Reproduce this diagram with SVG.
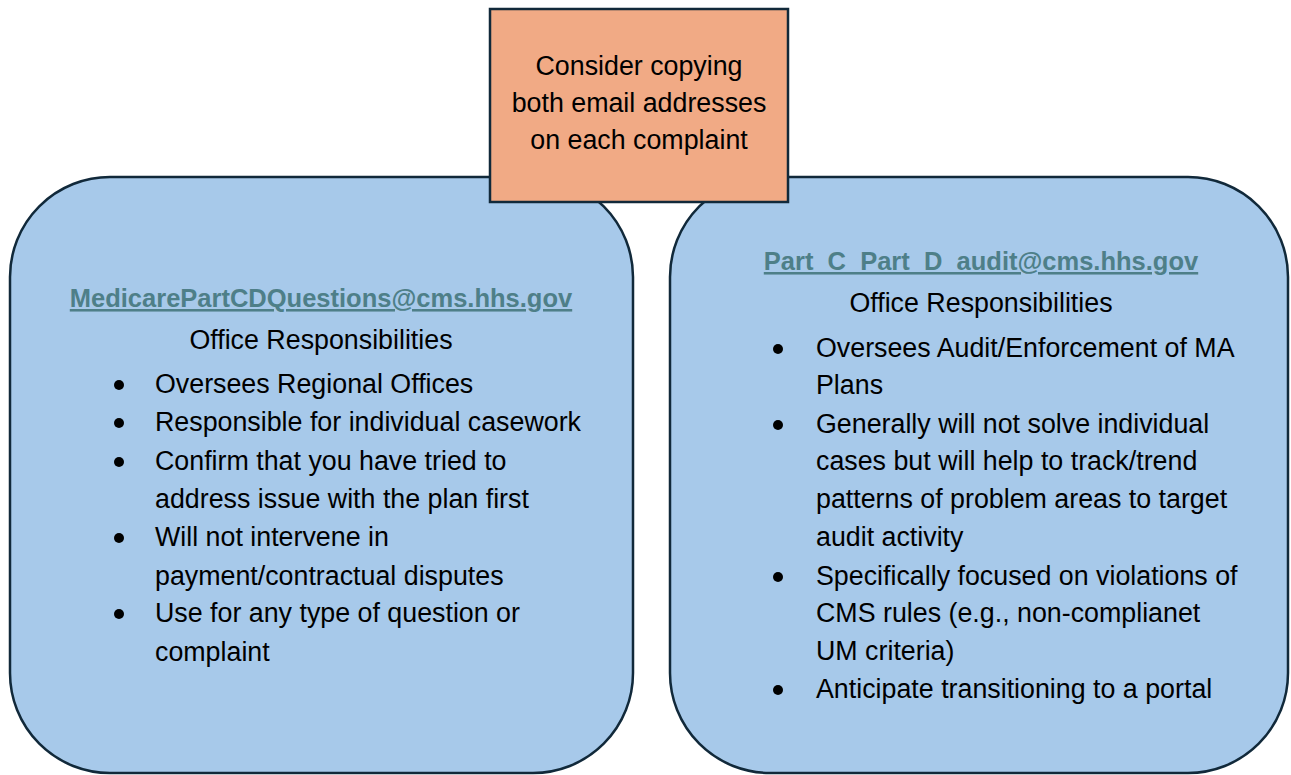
<svg xmlns="http://www.w3.org/2000/svg" width="1291" height="775" viewBox="0 0 1291 775">
  <style>
    .panel { fill: #a7c9ea; stroke: #11293a; stroke-width: 2.5; }
    .note { fill: #f1aa85; stroke: #11293a; stroke-width: 2.5; }
    .txt { font-family: "Liberation Sans", Arial, sans-serif; font-size: 26.8px; fill: #000; }
    .mid { text-anchor: middle; }
    .mail { font-family: "Liberation Sans", Arial, sans-serif; font-size: 25.5px; font-weight: bold; fill: #4e7f88; text-anchor: middle; text-decoration: underline; }
    .dot { fill: #000; }
  </style>
  <rect width="1291" height="775" fill="#ffffff"/>

  <!-- left panel: general questions mailbox -->
  <g id="node-questions">
    <rect class="panel" x="10" y="177" width="623" height="596" rx="100" ry="100"/>
    <text class="mail" x="321" y="307">MedicarePartCDQuestions@cms.hhs.gov</text>
    <text class="txt mid" x="321" y="349">Office Responsibilities</text>
    <circle class="dot" cx="119" cy="385" r="5"/>
    <text class="txt" x="155" y="393">Oversees Regional Offices</text>
    <circle class="dot" cx="119" cy="423" r="5"/>
    <text class="txt" x="155" y="431">Responsible for individual casework</text>
    <circle class="dot" cx="119" cy="462" r="5"/>
    <text class="txt" x="155" y="470">Confirm that you have tried to</text>
    <text class="txt" x="155" y="508">address issue with the plan first</text>
    <circle class="dot" cx="119" cy="538" r="5"/>
    <text class="txt" x="155" y="546">Will not intervene in</text>
    <text class="txt" x="155" y="585">payment/contractual disputes</text>
    <circle class="dot" cx="119" cy="614" r="5"/>
    <text class="txt" x="155" y="622">Use for any type of question or</text>
    <text class="txt" x="155" y="661">complaint</text>
  </g>

  <!-- right panel: audit mailbox -->
  <g id="node-audit">
    <rect class="panel" x="670" y="177" width="618" height="596" rx="100" ry="100"/>
    <text class="mail" x="981" y="270">Part_C_Part_D_audit@cms.hhs.gov</text>
    <text class="txt mid" x="981" y="312">Office Responsibilities</text>
    <circle class="dot" cx="778" cy="349" r="5"/>
    <text class="txt" x="816" y="357">Oversees Audit/Enforcement of MA</text>
    <text class="txt" x="816" y="394">Plans</text>
    <circle class="dot" cx="778" cy="425" r="5"/>
    <text class="txt" x="816" y="433">Generally will not solve individual</text>
    <text class="txt" x="816" y="470">cases but will help to track/trend</text>
    <text class="txt" x="816" y="508">patterns of problem areas to target</text>
    <text class="txt" x="816" y="546">audit activity</text>
    <circle class="dot" cx="778" cy="577" r="5"/>
    <text class="txt" x="816" y="585">Specifically focused on violations of</text>
    <text class="txt" x="816" y="622">CMS rules (e.g., non-complianet</text>
    <text class="txt" x="816" y="660">UM criteria)</text>
    <circle class="dot" cx="778" cy="690" r="5"/>
    <text class="txt" x="816" y="698">Anticipate transitioning to a portal</text>
  </g>

  <!-- top note overlapping both panels -->
  <g id="node-note">
    <rect class="note" x="490" y="9" width="298" height="193"/>
    <text class="txt mid" x="639" y="75">Consider copying</text>
    <text class="txt mid" x="639" y="112">both email addresses</text>
    <text class="txt mid" x="639" y="149">on each complaint</text>
  </g>

  <g id="connectors"></g>
</svg>
